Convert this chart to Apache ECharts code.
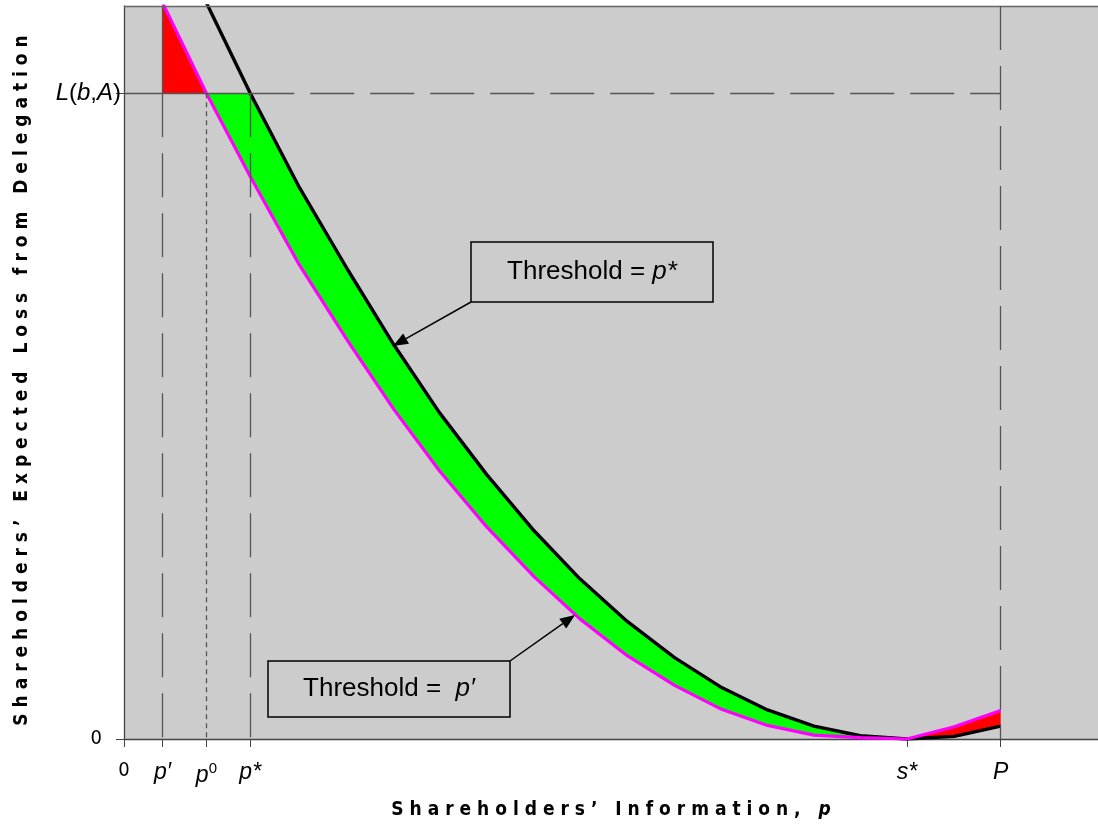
<!DOCTYPE html>
<html>
<head>
<meta charset="utf-8">
<script src="https://cdn.jsdelivr.net/npm/echarts@6/dist/echarts.min.js"></script>
<style>
  html, body { margin: 0; padding: 0; background: #fff; }
  #chart { width: 1098px; height: 826px; }
</style>
</head>
<body>
<div id="chart"></div>
<script>
// shareholders' information p (x) and expected loss (y, L(b,A) = 1)
const pGrid = [0.044, 0.094, 0.144, 0.200, 0.255, 0.308, 0.360, 0.414, 0.468, 0.520,
  0.574, 0.628, 0.680, 0.734, 0.787, 0.840, 0.893, 0.947, 1.000]
const lossPStar = [null, 1.14, 1.0, 0.854, 0.727, 0.610, 0.505, 0.409, 0.322, 0.248,
  0.182, 0.126, 0.081, 0.045, 0.020, 0.005, 0.0, 0.004, 0.020]
const lossPPrime = [1.14, 1.0, 0.871, 0.734, 0.617, 0.510, 0.415, 0.328, 0.251, 0.186,
  0.129, 0.083, 0.047, 0.021, 0.006, 0.002, 0.0, 0.019, 0.044]
const lossL = 1.0

const xTicks = [0, 0.044, 0.094, 0.144, 0.893, 1.0]
const xTickLabels = ['0', 'p′', 'p⁰', 'p*', 's*', 'P']
const yTicks = [0, 1.0]
const yTickLabels = ['0', 'L(b,A)']

const X_MAX = 1.111
const Y_MAX = 1.135
const iPPrime = 0
const iP0 = 1
const iPStar = 2
const iSStar = 16
const iP = 18

const chart = echarts.init(document.getElementById('chart'))

const xRich = label => {
  if (label === '0') return '{z|0}'
  if (label === 'p⁰') return '{i|p}{sup|0}'
  return '{i|' + label + '}'
}
const yRich = label => {
  if (label === '0') return '{z|0}'
  return '{i|L}{n|(}{i|b}{n|,}{i|A}{n|)}'
}

const pts = (ys, from, to) => {
  const out = []
  const step = from <= to ? 1 : -1
  for (let i = from; step > 0 ? i <= to : i >= to; i += step) {
    if (ys[i] !== null) out.push([pGrid[i], ys[i]])
  }
  return out
}

const redLeft = [[pGrid[iPPrime], lossPPrime[iPPrime]], [pGrid[iP0], lossL], [pGrid[iPPrime], lossL]]
const green = [[pGrid[iP0], lossL]].concat(pts(lossPStar, iPStar, iSStar), pts(lossPPrime, iSStar, iP0))
const redRight = pts(lossPPrime, iSStar, iP).concat(pts(lossPStar, iP, iSStar))

const guide = (x1, y1, x2, y2, type, color) => [
  { coord: [x1, y1], lineStyle: { type: type, color: color || '#555', width: 1.3 } },
  { coord: [x2, y2] }
]

const font = 'Liberation Sans, Arial, sans-serif'
const narrow = 'Liberation Sans Narrow, DejaVu Sans Condensed, sans-serif'

chart.setOption({
  animation: false,
  backgroundColor: '#fff',
  grid: {
    left: 124,
    right: 0,
    top: 6,
    bottom: 87,
    show: true,
    backgroundColor: '#cccccc',
    borderWidth: 0
  },
  xAxis: {
    type: 'value',
    min: 0,
    max: X_MAX,
    name: 'S h a r e h o l d e r s ’   I n f o r m a t i o n ,   {i|p}',
    nameLocation: 'middle',
    nameGap: 62,
    nameTextStyle: {
      fontFamily: narrow,
      fontWeight: 'bold',
      fontSize: 19,
      color: '#000',
      rich: { i: { fontFamily: narrow, fontWeight: 'bold', fontStyle: 'italic', fontSize: 19 } }
    },
    axisLine: { lineStyle: { color: '#444', width: 1.3 } },
    axisTick: { customValues: xTicks, length: 8, lineStyle: { color: '#444' } },
    splitLine: { show: false },
    axisLabel: {
      customValues: xTicks,
      margin: 22,
      formatter: v => xRich(xTickLabels[xTicks.indexOf(v)]),
      rich: {
        i: { fontFamily: font, fontStyle: 'italic', fontSize: 23, color: '#000' },
        sup: { fontFamily: font, fontSize: 15, color: '#000', padding: [0, 0, 14, 0] },
        z: { fontFamily: narrow, fontSize: 20, color: '#000' }
      }
    }
  },
  yAxis: {
    type: 'value',
    min: 0,
    max: Y_MAX,
    name: 'S h a r e h o l d e r s ’   E x p e c t e d   L o s s   f r o m   D e l e g a t i o n',
    nameLocation: 'middle',
    nameGap: 92,
    nameTextStyle: { fontFamily: narrow, fontWeight: 'bold', fontSize: 19, color: '#000', padding: [0, 16, 0, 0] },
    axisLine: { lineStyle: { color: '#444', width: 1.3 } },
    axisTick: { customValues: yTicks, length: 8, lineStyle: { color: '#444' } },
    splitLine: { show: false },
    axisLabel: {
      customValues: yTicks,
      margin: 3,
      formatter: v => yRich(yTickLabels[yTicks.indexOf(v)]),
      rich: {
        i: { fontFamily: font, fontStyle: 'italic', fontSize: 24, color: '#000' },
        n: { fontFamily: font, fontSize: 24, color: '#000' },
        z: { fontFamily: narrow, fontSize: 20, color: '#000', padding: [0, 19, 0, 0] }
      }
    }
  },
  series: [
    {
      type: 'custom',
      name: 'regions',
      silent: true,
      clip: true,
      data: [[0, 0]],
      z: 1,
      renderItem: (params, api) => {
        const poly = (list, color) => ({
          type: 'polygon',
          shape: { points: list.map(p => api.coord(p)) },
          style: { fill: color, stroke: null }
        })
        return {
          type: 'group',
          children: [
            poly(redLeft, '#ff0000'),
            poly(green, '#00ff00'),
            poly(redRight, '#ff0000')
          ]
        }
      }
    },
    {
      type: 'line',
      name: 'guides',
      data: [],
      silent: true,
      z: 2,
      markLine: {
        silent: true,
        symbol: ['none', 'none'],
        label: { show: false },
        data: [
          guide(0, Y_MAX, X_MAX, Y_MAX, 'solid', '#666'),
          guide(0, lossL, xTicks[3], lossL, 'solid'),
          guide(xTicks[3], lossL, xTicks[5], lossL, [44, 16]),
          guide(xTicks[1], Y_MAX, xTicks[1], lossL, 'solid'),
          guide(xTicks[1], lossL, xTicks[1], 0, [44, 16]),
          guide(xTicks[2], lossL, xTicks[2], 0, [5, 4]),
          guide(xTicks[3], lossL, xTicks[3], 0, [44, 16]),
          guide(xTicks[5], Y_MAX, xTicks[5], 0, [44, 16])
        ]
      }
    },
    {
      type: 'line',
      name: 'Threshold = p*',
      data: pts(lossPStar, 0, iP),
      symbol: 'none',
      z: 3,
      lineStyle: { color: '#000', width: 3.4 }
    },
    {
      type: 'line',
      name: 'Threshold = p′',
      data: pts(lossPPrime, 0, iP),
      symbol: 'none',
      z: 4,
      lineStyle: { color: '#ff00ff', width: 3.2 }
    }
  ]
})

// annotation boxes with arrows
const arrow = (x1, y1, x2, y2) => {
  const ang = Math.atan2(y2 - y1, x2 - x1)
  const len = 15
  const half = 6
  const bx = x2 - len * Math.cos(ang)
  const by = y2 - len * Math.sin(ang)
  const nx = -Math.sin(ang) * half
  const ny = Math.cos(ang) * half
  return [
    { type: 'line', shape: { x1: x1, y1: y1, x2: bx, y2: by }, style: { stroke: '#000', lineWidth: 1.5 }, z: 10 },
    { type: 'polygon', shape: { points: [[x2, y2], [bx + nx, by + ny], [bx - nx, by - ny]] }, style: { fill: '#000' }, z: 10 }
  ]
}
const box = (x, y, w, h, text) => [
  { type: 'rect', shape: { x: x, y: y, width: w, height: h }, style: { fill: '#cccccc', stroke: '#000', lineWidth: 1.5 }, z: 10 },
  {
    type: 'text',
    x: x + w / 2,
    y: y + h / 2,
    z: 11,
    style: {
      text: text,
      align: 'center',
      verticalAlign: 'middle',
      rich: {
        n: { fontFamily: font, fontSize: 26, fill: '#000' },
        i: { fontFamily: font, fontSize: 26, fontStyle: 'italic', fill: '#000' }
      }
    }
  }
]

chart.setOption({
  graphic: [].concat(
    box(471, 242, 242, 60, '{n|Threshold = }{i|p*}'),
    arrow(471, 302, 393, 346),
    box(268, 661, 242, 56, '{n|Threshold =  }{i|p′}'),
    arrow(510, 661, 575, 615)
  )
})
</script>
</body>
</html>
